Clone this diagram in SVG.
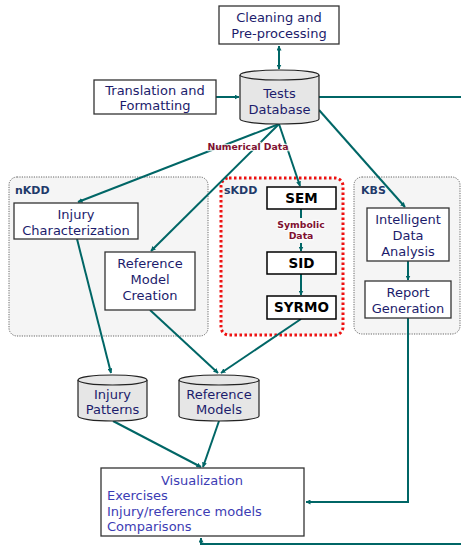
<svg xmlns="http://www.w3.org/2000/svg" width="461" height="547" viewBox="0 0 461 547">
<defs>
  <marker id="arr" viewBox="0 0 10 10" refX="9" refY="5" markerWidth="5" markerHeight="5" orient="auto-start-reverse" markerUnits="userSpaceOnUse">
    <path d="M0,0 L10,5 L0,10 z" fill="#006666"/>
  </marker>
  <style>
    .box { fill: #ffffff; stroke: #333333; stroke-width: 1.3; }
    .db { fill: #e6e6e6; stroke: #222222; stroke-width: 1.2; }
    .panel { fill: #f5f5f5; stroke: #666666; stroke-width: 1; stroke-dasharray: 1.2 1.2; }
    .spanel { fill: #f5f5f5; stroke: #ee1111; stroke-width: 3; stroke-dasharray: 2.5 2.5; }
    .t { font-family: "DejaVu Sans", Verdana, sans-serif; font-size: 13px; fill: #1c1c6c; text-anchor: middle; }
    .v { font-family: "DejaVu Sans", Verdana, sans-serif; font-size: 13px; fill: #3c3cb4; }
    .b { font-family: "DejaVu Sans", Verdana, sans-serif; font-size: 13.5px; font-weight: bold; fill: #000000; text-anchor: middle; }
    .pl { font-family: "DejaVu Sans", Verdana, sans-serif; font-size: 11px; font-weight: bold; fill: #1f3a6a; }
    .lbl { font-family: "DejaVu Sans", Verdana, sans-serif; font-size: 9.3px; font-weight: bold; fill: #801030; text-anchor: middle; stroke: #ffffff; stroke-width: 2.5; stroke-opacity: 0.8; paint-order: stroke; }
    .c { fill: none; stroke: #006666; stroke-width: 2; }
  </style>
</defs>

<!-- panels -->
<g id="panel-nkdd">
  <rect class="panel" x="9" y="177" width="199" height="159" rx="8"/>
  <text class="pl" x="15" y="194">nKDD</text>
</g>
<g id="panel-skdd">
  <rect class="spanel" x="221" y="178" width="122" height="157" rx="8"/>
  <text class="pl" x="224" y="194">sKDD</text>
</g>
<g id="panel-kbs">
  <rect class="panel" x="354" y="177" width="106" height="157" rx="8"/>
  <text class="pl" x="361" y="194">KBS</text>
</g>

<!-- connectors -->
<g id="connectors">
  <line class="c" x1="279" y1="46" x2="279" y2="69" marker-start="url(#arr)" marker-end="url(#arr)"/>
  <line class="c" x1="216" y1="97" x2="239" y2="97" marker-end="url(#arr)"/>
  <line class="c" x1="319" y1="97" x2="461" y2="97"/>
  <line class="c" x1="279" y1="124" x2="78" y2="202" marker-end="url(#arr)"/>
  <line class="c" x1="279" y1="124" x2="151" y2="251" marker-end="url(#arr)"/>
  <line class="c" x1="279" y1="124" x2="300" y2="186" marker-end="url(#arr)"/>
  <line class="c" x1="319" y1="110" x2="405" y2="207" marker-end="url(#arr)"/>
  <line class="c" x1="301" y1="209" x2="301" y2="218"/>
  <line class="c" x1="301" y1="243" x2="301" y2="251" marker-end="url(#arr)"/>
  <line class="c" x1="301" y1="274" x2="301" y2="295" marker-end="url(#arr)"/>
  <line class="c" x1="408" y1="261" x2="408" y2="280" marker-end="url(#arr)"/>
  <polyline class="c" points="408,318 408,502 306,502" marker-end="url(#arr)"/>
  <line class="c" x1="77" y1="239" x2="111" y2="373" marker-end="url(#arr)"/>
  <line class="c" x1="150" y1="310" x2="218" y2="373" marker-end="url(#arr)"/>
  <line class="c" x1="301" y1="319" x2="221" y2="373" marker-end="url(#arr)"/>
  <line class="c" x1="113" y1="421" x2="201" y2="467" marker-end="url(#arr)"/>
  <line class="c" x1="219" y1="421" x2="203" y2="467" marker-end="url(#arr)"/>
  <polyline class="c" points="461,544 201,544 201,538" marker-end="url(#arr)"/>
  <text class="lbl" x="248" y="150">Numerical Data</text>
  <text class="lbl" x="301" y="228">Symbolic</text>
  <text class="lbl" x="301" y="239">Data</text>
</g>

<!-- nodes -->
<g id="cleaning">
  <rect class="box" x="219" y="6" width="120" height="38"/>
  <text class="t" x="279" y="22">Cleaning and</text>
  <text class="t" x="279" y="38">Pre-processing</text>
</g>
<g id="translation">
  <rect class="box" x="94" y="80" width="122" height="34"/>
  <text class="t" x="155" y="95">Translation and</text>
  <text class="t" x="155" y="110">Formatting</text>
</g>
<g id="tests-db">
  <path class="db" d="M240,75 A39.5,5 0 0 1 319,75 L319,119 A39.5,5 0 0 1 240,119 Z"/>
  <path class="db" d="M240,75 A39.5,5 0 0 0 319,75" fill="none"/>
  <text class="t" x="279.5" y="98">Tests</text>
  <text class="t" x="279.5" y="114">Database</text>
</g>
<g id="injury-char">
  <rect class="box" x="14" y="203" width="124" height="36"/>
  <text class="t" x="76" y="219">Injury</text>
  <text class="t" x="76" y="235">Characterization</text>
</g>
<g id="ref-model-creation">
  <rect class="box" x="105" y="252" width="90" height="58"/>
  <text class="t" x="150" y="268">Reference</text>
  <text class="t" x="150" y="284">Model</text>
  <text class="t" x="150" y="300">Creation</text>
</g>
<g id="sem">
  <rect class="box" x="267" y="187" width="69" height="22" style="stroke:#000;stroke-width:1.5"/>
  <text class="b" x="301.5" y="203">SEM</text>
</g>
<g id="sid">
  <rect class="box" x="267" y="252" width="69" height="22" style="stroke:#000;stroke-width:1.5"/>
  <text class="b" x="301.5" y="268">SID</text>
</g>
<g id="syrmo">
  <rect class="box" x="267" y="296" width="69" height="23" style="stroke:#000;stroke-width:1.5"/>
  <text class="b" x="301.5" y="312">SYRMO</text>
</g>
<g id="ida">
  <rect class="box" x="367" y="208" width="82" height="53"/>
  <text class="t" x="408" y="224">Intelligent</text>
  <text class="t" x="408" y="240">Data</text>
  <text class="t" x="408" y="256">Analysis</text>
</g>
<g id="report">
  <rect class="box" x="365" y="281" width="86" height="37"/>
  <text class="t" x="408" y="297">Report</text>
  <text class="t" x="408" y="313">Generation</text>
</g>
<g id="injury-patterns">
  <path class="db" d="M78,380 A34.5,5 0 0 1 147,380 L147,416 A34.5,5 0 0 1 78,416 Z"/>
  <path class="db" d="M78,380 A34.5,5 0 0 0 147,380" fill="none"/>
  <text class="t" x="112.5" y="399">Injury</text>
  <text class="t" x="112.5" y="414">Patterns</text>
</g>
<g id="reference-models">
  <path class="db" d="M179,380 A40,5 0 0 1 259,380 L259,416 A40,5 0 0 1 179,416 Z"/>
  <path class="db" d="M179,380 A40,5 0 0 0 259,380" fill="none"/>
  <text class="t" x="219" y="399">Reference</text>
  <text class="t" x="219" y="414">Models</text>
</g>
<g id="visualization">
  <rect class="box" x="101" y="468" width="203" height="68"/>
  <text class="v" x="202" y="485" text-anchor="middle">Visualization</text>
  <text class="v" x="107" y="500">Exercises</text>
  <text class="v" x="107" y="516">Injury/reference models</text>
  <text class="v" x="107" y="531">Comparisons</text>
</g>
</svg>
